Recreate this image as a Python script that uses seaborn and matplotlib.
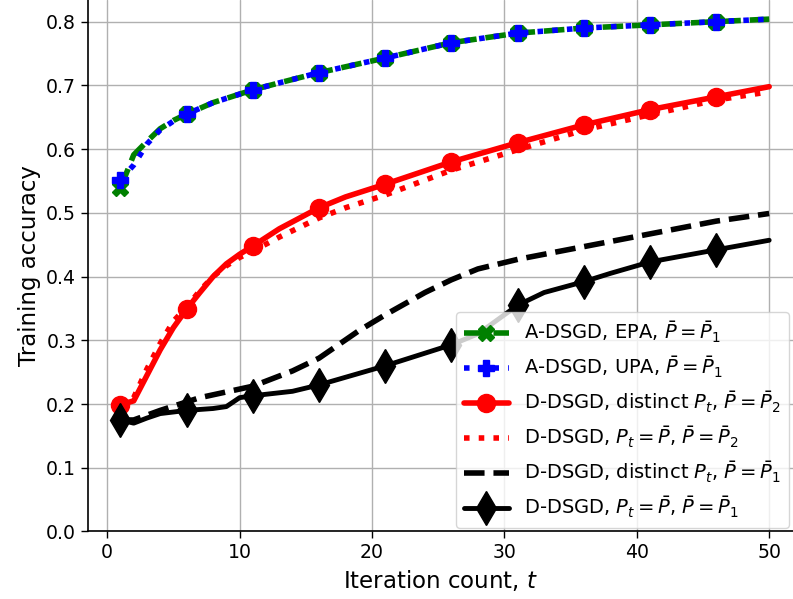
import numpy as np
import pandas as pd
import seaborn as sns
import matplotlib.pyplot as plt

# values
t_a = [1, 2, 3, 4, 5, 6, 8, 11, 13, 16, 21, 26, 31, 36, 41, 46, 50]
epa = [0.539, 0.591, 0.612, 0.632, 0.645, 0.655, 0.673, 0.693, 0.704, 0.720, 0.743,
       0.767, 0.782, 0.790, 0.795, 0.800, 0.804]
upa = [0.552, 0.575, 0.608, 0.630, 0.644, 0.655, 0.673, 0.693, 0.704, 0.720, 0.743,
       0.767, 0.782, 0.790, 0.795, 0.800, 0.804]

t_r = [1, 2, 3, 4, 5, 6, 7, 8, 9, 10, 11, 13, 16, 18, 21, 26, 31, 36, 41, 46, 50]
red_distinct = [0.199, 0.205, 0.245, 0.285, 0.320, 0.349, 0.375, 0.400, 0.420, 0.435, 0.448,
                0.475, 0.508, 0.525, 0.545, 0.580, 0.610, 0.638, 0.662, 0.682, 0.698]
red_fixed = [0.200, 0.210, 0.255, 0.295, 0.330, 0.352, 0.378, 0.400, 0.417, 0.430, 0.440,
             0.462, 0.492, 0.508, 0.528, 0.567, 0.599, 0.630, 0.654, 0.677, 0.690]

t_k = [1, 2, 4, 7, 11, 14, 16, 19, 21, 24, 26, 28, 31, 36, 41, 46, 50]
black_distinct = [0.175, 0.175, 0.190, 0.210, 0.228, 0.252, 0.272, 0.315, 0.340, 0.375, 0.395,
                  0.412, 0.427, 0.447, 0.467, 0.487, 0.499]
t_d = [1, 2, 3, 4, 6, 8, 9, 10, 11, 14, 16, 21, 26, 28, 31, 33, 36, 38, 41, 46, 50]
black_fixed = [0.175, 0.170, 0.178, 0.185, 0.190, 0.193, 0.196, 0.210, 0.213, 0.220, 0.230,
               0.260, 0.293, 0.310, 0.355, 0.375, 0.392, 0.405, 0.423, 0.442, 0.457]

labels = [r'A-DSGD, EPA, $\bar{P}=\bar{P}_1$',
          r'A-DSGD, UPA, $\bar{P}=\bar{P}_1$',
          r'D-DSGD, distinct $P_t$, $\bar{P}=\bar{P}_2$',
          r'D-DSGD, $P_t=\bar{P}$, $\bar{P}=\bar{P}_2$',
          r'D-DSGD, distinct $P_t$, $\bar{P}=\bar{P}_1$',
          r'D-DSGD, $P_t=\bar{P}$, $\bar{P}=\bar{P}_1$']

marker_t = list(range(1, 50, 5))


def marks(ts):
    return [t in marker_t for t in ts]


sns.set_style('ticks')
plt.rcParams['font.family'] = ['DejaVu Sans']
plt.rcParams['text.color'] = 'black'
plt.rcParams['axes.labelcolor'] = 'black'
plt.rcParams['xtick.color'] = 'black'
plt.rcParams['ytick.color'] = 'black'

fig = plt.figure(figsize=(7.93, 5.99), dpi=100)
ax = fig.add_axes([0.111, 0.1127, 0.889, 0.8873])

series = [
    (t_a, epa, 'green', '--', 'X', 12, 4),
    (t_a, upa, 'blue', ':', 'P', 12, 4),
    (t_r, red_distinct, 'red', '-', 'o', 13, 4),
    (t_r, red_fixed, 'red', ':', None, 0, 4),
    (t_k, black_distinct, 'black', '--', None, 0, 4),
    (t_d, black_fixed, 'black', '-', 'd', 17, 3.5),
]
for (x, y, c, ls, m, ms, lw), lab in zip(series, labels):
    kw = dict(color=c, linestyle=ls, linewidth=lw, label=lab)
    if m:
        kw.update(marker=m, markersize=ms, markevery=marks(x),
                  markeredgecolor=c, markerfacecolor=c, markeredgewidth=1)
    sns.lineplot(x=x, y=y, ax=ax, **kw)

ax.set_xlim(-1.45, 51.8)
ax.set_ylim(0, 0.834)
ax.set_xticks([0, 10, 20, 30, 40, 50])
ax.set_yticks(np.arange(0, 0.81, 0.1))
ax.grid(True, color='#b0b0b0', linewidth=1)
ax.tick_params(labelsize=13.6, length=5, width=1, color='black')
for s in ['top', 'right']:
    ax.spines[s].set_visible(False)
for s in ['left', 'bottom']:
    ax.spines[s].set_color('black')
    ax.spines[s].set_linewidth(1.2)
ax.set_xlabel(r'Iteration count, $t$', fontsize=16.5)
ax.set_ylabel('Training accuracy', fontsize=16.5)
ax.legend(loc='lower right', fontsize=14, handlelength=2.3, framealpha=0.8,
          borderaxespad=0.2, labelspacing=0.5)

fig.savefig('out.png', dpi=100)
